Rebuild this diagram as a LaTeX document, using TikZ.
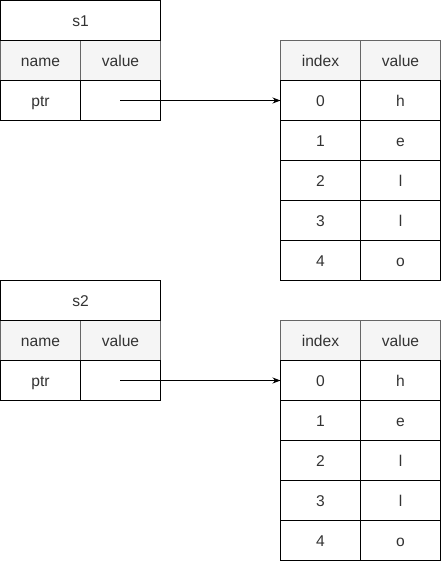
\documentclass[tikz,border=0pt]{standalone}
\usepackage{fontspec}
\setmainfont{Liberation Sans}
\usetikzlibrary{arrows.meta}
\definecolor{txt}{HTML}{333333}
\definecolor{hdrfill}{HTML}{F5F5F5}
\definecolor{hdrline}{HTML}{666666}
\tikzset{
  cell/.style={rectangle, anchor=north west, minimum width=60pt, minimum height=30pt,
    inner sep=0pt, outer sep=0pt, line width=0.75pt, draw=black, fill=white,
    text height=8.6pt, text depth=0pt,
    font=\fontsize{11.7pt}{14pt}\selectfont, text=txt},
  titlecell/.style={cell, minimum width=120pt},
  hdrcell/.style={cell, fill=hdrfill, draw=hdrline},
  link/.style={line width=0.75pt, -{Stealth[length=6pt,width=4.5pt]}}
}
\begin{document}
\begin{tikzpicture}[x=0.75pt,y=-0.75pt]
\useasboundingbox (0,0) rectangle (441,561);
% s1 table
\node[hdrcell] (s1hn) at (0.5,40.5) {name};
\node[hdrcell] (s1hv) at (80.5,40.5) {value};
\node[titlecell] (s1t) at (0.5,0.5) {s1};
\node[cell] (s1n) at (0.5,80.5) {ptr};
\node[cell] (s1v) at (80.5,80.5) {};
\coordinate (s1p) at (120,100.5);
% array 1
\node[hdrcell] (a1hi) at (280.5,40.5) {index};
\node[hdrcell] (a1hv) at (360.5,40.5) {value};
\node[cell] (a1i0) at (280.5,80.5) {0};
\node[cell] (a1v0) at (360.5,80.5) {h};
\node[cell] (a1i1) at (280.5,120.5) {1};
\node[cell] (a1v1) at (360.5,120.5) {e};
\node[cell] (a1i2) at (280.5,160.5) {2};
\node[cell] (a1v2) at (360.5,160.5) {l};
\node[cell] (a1i3) at (280.5,200.5) {3};
\node[cell] (a1v3) at (360.5,200.5) {l};
\node[cell] (a1i4) at (280.5,240.5) {4};
\node[cell] (a1v4) at (360.5,240.5) {o};
% s2 table
\node[hdrcell] (s2hn) at (0.5,320.5) {name};
\node[hdrcell] (s2hv) at (80.5,320.5) {value};
\node[titlecell] (s2t) at (0.5,280.5) {s2};
\node[cell] (s2n) at (0.5,360.5) {ptr};
\node[cell] (s2v) at (80.5,360.5) {};
\coordinate (s2p) at (120,380.5);
% array 2
\node[hdrcell] (a2hi) at (280.5,320.5) {index};
\node[hdrcell] (a2hv) at (360.5,320.5) {value};
\node[cell] (a2i0) at (280.5,360.5) {0};
\node[cell] (a2v0) at (360.5,360.5) {h};
\node[cell] (a2i1) at (280.5,400.5) {1};
\node[cell] (a2v1) at (360.5,400.5) {e};
\node[cell] (a2i2) at (280.5,440.5) {2};
\node[cell] (a2v2) at (360.5,440.5) {l};
\node[cell] (a2i3) at (280.5,480.5) {3};
\node[cell] (a2v3) at (360.5,480.5) {l};
\node[cell] (a2i4) at (280.5,520.5) {4};
\node[cell] (a2v4) at (360.5,520.5) {o};
% pointers
\draw[link] (s1p) -- (a1i0.west);
\draw[link] (s2p) -- (a2i0.west);
\end{tikzpicture}
\end{document}
